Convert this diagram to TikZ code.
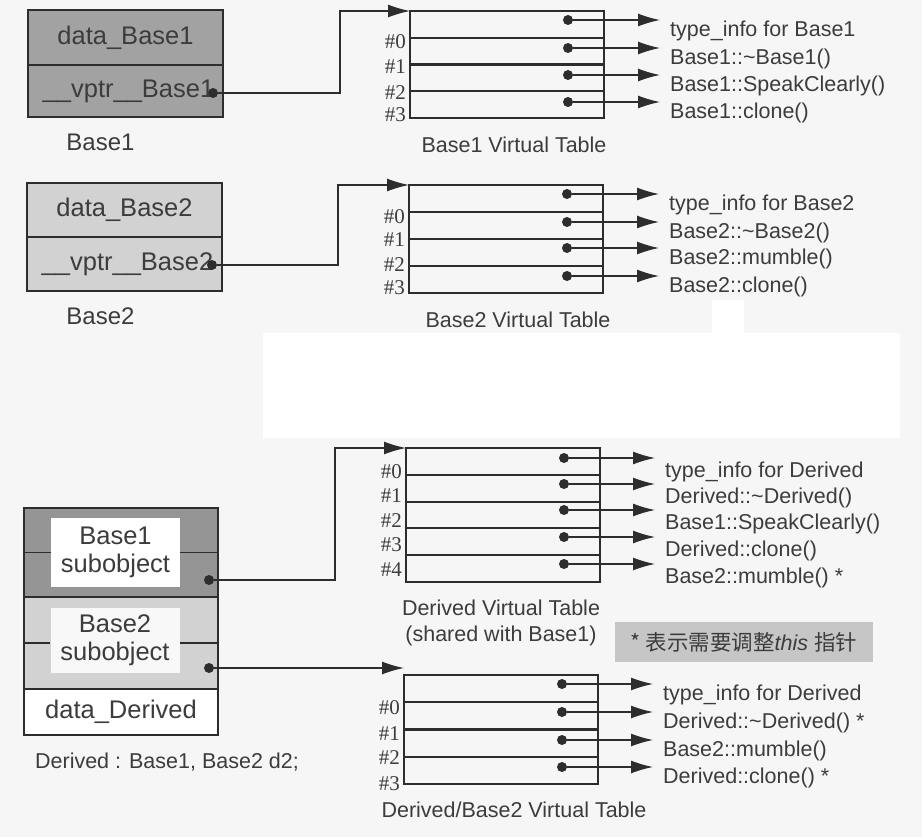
\documentclass[tikz,border=0pt]{standalone}
\usepackage{fontspec}
\setmainfont{Liberation Sans}
\newfontfamily\idxfont{Liberation Serif}
\newfontfamily\cjkfont{Noto Sans CJK SC}
\usepackage{xcolor}
\usetikzlibrary{arrows.meta,calc,positioning}
\definecolor{paper}{RGB}{246,246,246}
\definecolor{inkgray}{RGB}{60,60,60}
\definecolor{linegray}{RGB}{45,45,45}
\definecolor{darkfill}{RGB}{162,162,162}
\definecolor{lightfill}{RGB}{210,210,210}
\definecolor{notefill}{RGB}{198,198,198}

\begin{document}
\begin{tikzpicture}[
  x=1pt, y=-1pt,
  font=\fontsize{21.5}{26}\selectfont, text=inkgray,
  objcell/.style={draw=linegray, line width=1.5pt, outer sep=0pt, minimum width=195pt, font=\fontsize{25.5}{28}\selectfont},
  objname/.style={inner sep=0pt, font=\fontsize{24}{28}\selectfont},
  subbox/.style={fill=white, minimum width=129pt, align=center, inner sep=0pt, font=\fontsize{25.5}{28}\selectfont},
  divider/.style={draw=linegray, line width=1.5pt},
  vtab/.style={draw=linegray, line width=1.4pt, anchor=north west, minimum width=194pt, inner sep=0pt, outer sep=0pt},
  rowline/.style={draw=linegray, line width=2.2pt},
  idx/.style={anchor=east, inner xsep=4pt, inner ysep=0pt, font=\idxfont\fontsize{21}{21}\selectfont},
  slot/.style={circle, fill=linegray, inner sep=0pt, minimum size=10pt},
  entry/.style={anchor=west, inner xsep=10pt, inner ysep=0pt},
  caption/.style={align=center, inner sep=0pt},
  note/.style={fill=notefill, minimum width=258pt, minimum height=40pt, inner sep=0pt},
  arr/.style={-{Latex[length=22pt,width=13pt]}, draw=linegray, line width=1.3pt}
]
\useasboundingbox (0,0) rectangle (922,837);
\fill[paper] (0,0) rectangle (922,837);
\fill[white] (263,333) rectangle (900,438);
\fill[white] (712,300) rectangle (744,334);

% Base1 object
\node[objcell, fill=darkfill, minimum height=55pt] (b1data) at (125.5,37.5) {data\_Base1};
\node[objcell, fill=darkfill, minimum height=52pt, below=0pt of b1data] (b1vptr) {\hspace{6pt}\_\_vptr\_\_Base1};
\node[objname, below=17pt of b1vptr, xshift=-25pt] (b1name) {Base1};
\node[slot] (b1p) at ($(b1vptr.south east)+(-10,-24)$) {};

% Base1 virtual table
\node[vtab, minimum height=107pt] (vt1) at (410,11) {};
\foreach \k in {1,2,3}
  \draw[rowline] ($(vt1.north west)!\k/4!(vt1.south west)$) -- ($(vt1.north east)!\k/4!(vt1.south east)$);
\foreach \k/\ly in {0/42,1/67,2/93,3/115}
  \node[idx] (vt1n\k) at (vt1.west |- 0,\ly) {\#\k};
\foreach \k/\sy/\ftxt in {0/20/type\_info for Base1, 1/48/Base1::\textasciitilde Base1(),
    2/75/Base1::SpeakClearly(), 3/102/Base1::clone()} {
  \node[slot] (vt1s\k) at (568,\sy) {};
  \node[entry] (vt1f\k) at (660,\sy+11) {\ftxt};
  \draw[arr] (vt1s\k) -- (vt1s\k -| vt1f\k.west);
}
\node[caption, below=19pt of vt1, xshift=7pt] (vt1cap) {Base1 Virtual Table};
\draw[arr] (b1p) -- ++(127,0) |- (vt1.north west);

% Base2 object
\node[objcell, fill=lightfill, minimum height=54pt] (b2data) at (124.5,210) {data\_Base2};
\node[objcell, fill=lightfill, minimum height=54pt, below=0pt of b2data] (b2vptr) {\hspace{6pt}\_\_vptr\_\_Base2};
\node[objname, below=17pt of b2vptr, xshift=-24pt] (b2name) {Base2};
\node[slot] (b2p) at ($(b2vptr.south east)+(-10,-26)$) {};

% Base2 virtual table
\node[vtab, minimum height=108pt] (vt2) at (409,185) {};
\foreach \k in {1,2,3}
  \draw[rowline] ($(vt2.north west)!\k/4!(vt2.south west)$) -- ($(vt2.north east)!\k/4!(vt2.south east)$);
\foreach \k/\ly in {0/217,1/240,2/265,3/288}
  \node[idx] (vt2n\k) at (vt2.west |- 0,\ly) {\#\k};
\foreach \k/\sy/\ftxt in {0/194/type\_info for Base2, 1/222/Base2::\textasciitilde Base2(),
    2/248/Base2::mumble(), 3/276/Base2::clone()} {
  \node[slot] (vt2s\k) at (567,\sy) {};
  \node[entry] (vt2f\k) at (659,\sy+11) {\ftxt};
  \draw[arr] (vt2s\k) -- (vt2s\k -| vt2f\k.west);
}
\node[caption, below=19pt of vt2, xshift=12pt] (vt2cap) {Base2 Virtual Table};
\draw[arr] (b2p) -- ++(126,0) |- (vt2.north west);

% Derived object
\node[objcell, fill=darkfill!92!black, minimum height=89pt, minimum width=194pt] (dsub1) at (121,552.5) {};
\node[objcell, fill=lightfill, minimum height=92pt, minimum width=194pt, below=0pt of dsub1] (dsub2) {};
\node[objcell, fill=white, minimum height=46pt, minimum width=194pt, below=0pt of dsub2] (ddata) {data\_Derived};
\node[subbox, minimum height=69pt] (dsub1t) at ([xshift=-5.5pt]dsub1.center) {Base1\\subobject};
\node[subbox, minimum height=65pt, fill=white!85!lightfill] (dsub2t) at ([xshift=-6pt,yshift=2.5pt]dsub2.center) {Base2\\subobject};
\draw[divider] (dsub1.west) -- (dsub1t.west |- dsub1.west);
\draw[divider] (dsub1t.east |- dsub1.east) -- (dsub1.east);
\draw[divider] (dsub2.west) -- (dsub2t.west |- dsub2.west);
\draw[divider] (dsub2t.east |- dsub2.east) -- (dsub2.east);
\node[slot] (dp1) at ($(dsub1.south east)+(-9,-17)$) {};
\node[slot] (dp2) at ($(dsub2.south east)+(-9,-21)$) {};
\node[caption, below=18pt of ddata, xshift=46pt] (dname) {Derived : Base1, Base2 d2;};

% Derived virtual table
\node[vtab, minimum height=134pt] (vt3) at (406,448) {};
\foreach \k in {1,...,4}
  \draw[rowline] ($(vt3.north west)!\k/5!(vt3.south west)$) -- ($(vt3.north east)!\k/5!(vt3.south east)$);
\foreach \k/\ly in {0/472,1/496,2/521,3/545,4/570}
  \node[idx] (vt3n\k) at (vt3.west |- 0,\ly) {\#\k};
\foreach \k/\sy/\ftxt in {0/458/type\_info for Derived, 1/484/Derived::\textasciitilde Derived(),
    2/510/Base1::SpeakClearly(), 3/537/Derived::clone(), 4/564/Base2::mumble() *} {
  \node[slot] (vt3s\k) at (564,\sy) {};
  \node[entry] (vt3f\k) at (655,\sy+14) {\ftxt};
  \draw[arr] (vt3s\k) -- (vt3s\k -| vt3f\k.west);
}
\node[caption, below=18pt of vt3, xshift=-2pt] (vt3cap) {Derived Virtual Table\\(shared with Base1)};
\draw[arr] (dp1) -- ++(126,0) |- (vt3.north west);

\node[note] (adjnote) at (744,642) {{\cjkfont * 表示需要调整}\textit{this} {\cjkfont 指针}};

% Derived/Base2 virtual table
\node[vtab, minimum height=109pt] (vt4) at (404,675) {};
\foreach \k in {1,2,3}
  \draw[rowline] ($(vt4.north west)!\k/4!(vt4.south west)$) -- ($(vt4.north east)!\k/4!(vt4.south east)$);
\foreach \k/\ly in {0/708,1/734,2/758,3/784}
  \node[idx] (vt4n\k) at (vt4.west |- 0,\ly) {\#\k};
\foreach \k/\sy/\ftxt in {0/684/type\_info for Derived, 1/712/Derived::\textasciitilde Derived() *,
    2/740/Base2::mumble(), 3/767/Derived::clone() *} {
  \node[slot] (vt4s\k) at (562,\sy) {};
  \node[entry] (vt4f\k) at (653,\sy+11) {\ftxt};
  \draw[arr] (vt4s\k) -- (vt4s\k -| vt4f\k.west);
}
\node[caption, below=18pt of vt4, xshift=13pt] (vt4cap) {Derived/Base2 Virtual Table};
\draw[arr] (dp2) -- (dp2 -| vt4.west);
\end{tikzpicture}
\end{document}
